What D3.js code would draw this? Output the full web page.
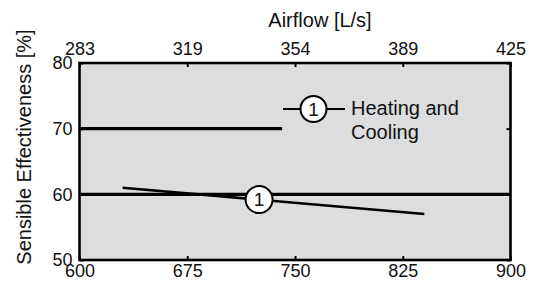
<!DOCTYPE html>
<html>
<head>
<meta charset="utf-8">
<script src="https://cdn.jsdelivr.net/npm/d3@7"></script>
<style>
  html, body { margin: 0; padding: 0; background: #fff; }
  svg text { font-family: "Liberation Sans", Arial, Helvetica, sans-serif; fill: #111; }
</style>
</head>
<body>
<svg id="chart" width="535" height="284"></svg>
<script>
// ---- data ----
const bottomTicks = [600, 675, 750, 825, 900];
const topTickLabels = ["283", "319", "354", "389", "425"];
const yTicks = [50, 60, 70, 80];
const xDomain = [600, 900];
const yDomain = [50, 80];

// horizontal reference lines (value, start, end in CFM)
const refValues = [70, 60];
const refStarts = [600, 600];
const refEnds = [741, 900];

// "Heating and Cooling" curve (1)
const curveX = [630, 840];
const curveY = [61, 57];
const markerX = [725];
const markerY = [59.2];
const markerLabels = ["1"];

const legendLines = ["Heating and", "Cooling"];

// ---- layout ----
const svg = d3.select("#chart");
const L = 79.5, R = 510.5, T = 63, B = 260;

const x = d3.scaleLinear().domain(xDomain).range([L, R]);
const y = d3.scaleLinear().domain(yDomain).range([B, T]);

// plot background
svg.append("rect")
  .attr("x", L).attr("y", T).attr("width", R - L).attr("height", B - T)
  .attr("fill", "#dcdddf");

// axes
function styleAxis(g) {
  g.selectAll("path.domain").remove();
  g.selectAll("line").attr("stroke", "#000").attr("stroke-width", 2);
  g.selectAll("text").attr("font-size", 18).style("fill", "#111");
}

svg.append("g").attr("transform", `translate(0,${B})`)
  .call(d3.axisBottom(x).tickValues(bottomTicks).tickSize(-4).tickPadding(4))
  .call(styleAxis);

svg.append("g").attr("transform", `translate(0,${T})`)
  .call(d3.axisTop(x).tickValues(bottomTicks).tickFormat((d, i) => topTickLabels[i]).tickSize(-4).tickPadding(8))
  .call(styleAxis);

svg.append("g").attr("transform", `translate(${L},0)`)
  .call(d3.axisLeft(y).tickValues(yTicks).tickSize(-4).tickPadding(7))
  .call(styleAxis);

svg.append("g").attr("transform", `translate(${R},0)`)
  .call(d3.axisRight(y).tickValues(yTicks).tickSize(-4).tickFormat(""))
  .call(styleAxis);

// frame
svg.append("rect")
  .attr("x", L).attr("y", T).attr("width", R - L).attr("height", B - T)
  .attr("fill", "none").attr("stroke", "#000").attr("stroke-width", 2.6);

// reference lines
svg.selectAll("line.ref").data(refValues).enter().append("line")
  .attr("class", "ref")
  .attr("x1", (d, i) => x(refStarts[i])).attr("x2", (d, i) => x(refEnds[i]))
  .attr("y1", d => y(d)).attr("y2", d => y(d))
  .attr("stroke", "#000").attr("stroke-width", 3.4);

// curve
const pts = curveX.map((v, i) => [v, curveY[i]]);
svg.append("path")
  .attr("d", d3.line().x(d => x(d[0])).y(d => y(d[1]))(pts))
  .attr("fill", "none").attr("stroke", "#000").attr("stroke-width", 2.6);

// markers
const mk = svg.selectAll("g.mk").data(markerX).enter().append("g")
  .attr("transform", (d, i) => `translate(${x(d)},${y(markerY[i])})`);
mk.append("circle").attr("r", 13.5).attr("fill", "#fff").attr("stroke", "#000").attr("stroke-width", 2);
mk.append("text").attr("text-anchor", "middle").attr("dy", "0.36em")
  .attr("font-size", 19).text((d, i) => markerLabels[i]);

// legend
const lg = svg.append("g");
lg.append("line").attr("x1", 283).attr("x2", 345).attr("y1", 109).attr("y2", 109)
  .attr("stroke", "#000").attr("stroke-width", 2);
lg.append("circle").attr("cx", 313.5).attr("cy", 109).attr("r", 13)
  .attr("fill", "#fff").attr("stroke", "#000").attr("stroke-width", 2);
lg.append("text").attr("x", 313.5).attr("y", 109).attr("dy", "0.36em")
  .attr("text-anchor", "middle").attr("font-size", 19).text(markerLabels[0]);
lg.selectAll("text.leg").data(legendLines).enter().append("text")
  .attr("class", "leg")
  .attr("x", 351).attr("y", (d, i) => 115 + i * 24)
  .attr("font-size", 20).text(d => d);

// titles
svg.append("text").attr("x", 320).attr("y", 27).attr("text-anchor", "middle")
  .attr("font-size", 20).text("Airflow [L/s]");
svg.append("text").attr("transform", "translate(31,147) rotate(-90)")
  .attr("text-anchor", "middle").attr("font-size", 20).text("Sensible Effectiveness [%]");
</script>
</body>
</html>
